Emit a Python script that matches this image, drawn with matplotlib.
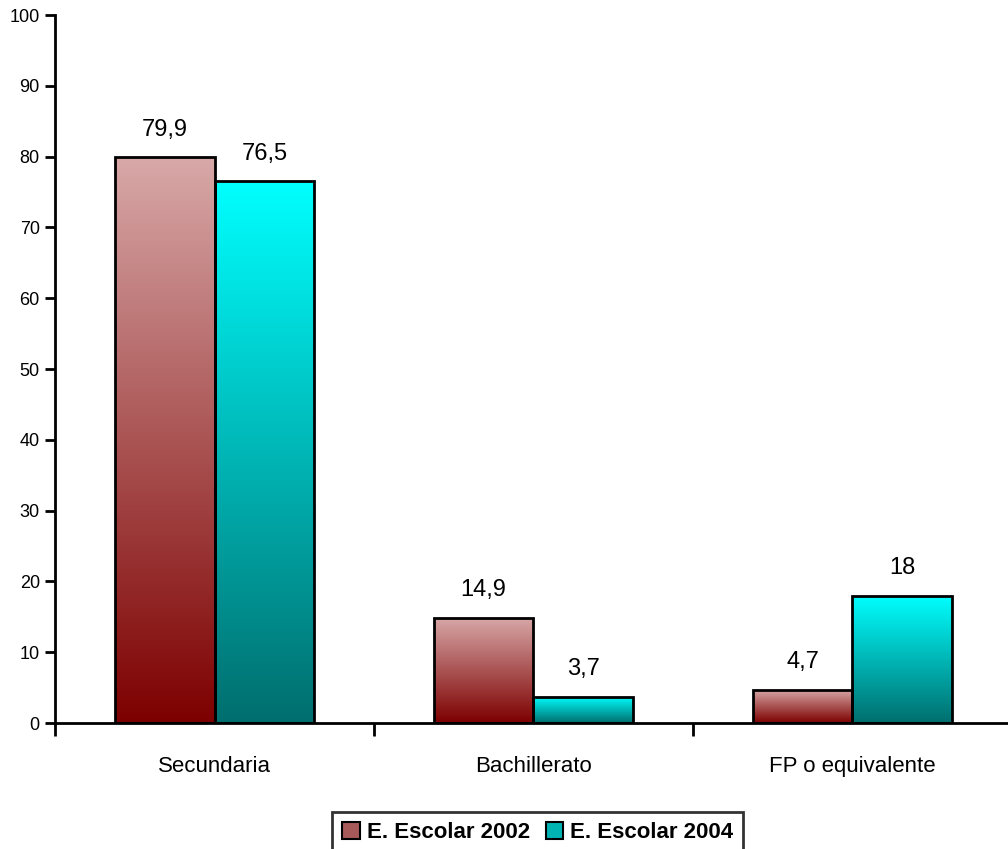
import numpy as np
import matplotlib
matplotlib.use("Agg")
import matplotlib.pyplot as plt
from matplotlib.colors import LinearSegmentedColormap
from matplotlib.patches import Patch

plt.rcParams["font.family"] = ["Liberation Sans", "DejaVu Sans"]

# data
categories = ["Secundaria", "Bachillerato", "FP o equivalente"]
series_names = ["E. Escolar 2002", "E. Escolar 2004"]
escolar_2002 = [79.9, 14.9, 4.7]
escolar_2004 = [76.5, 3.7, 18]
y_ticks = [0, 10, 20, 30, 40, 50, 60, 70, 80, 90, 100]

# gradient colours (bottom -> top)
red_cmap = LinearSegmentedColormap.from_list("red", ["#7d0000", "#d8a8a8"])
cyan_cmap = LinearSegmentedColormap.from_list("cyan", ["#006e6e", "#00ffff"])
mid_colors = ["#a85a5a", "#00b4b4"]

fig = plt.figure(figsize=(10.08, 8.49), dpi=100)
ax = fig.add_axes([0.0546, 0.1484, 0.9454, 0.8339])

x = np.arange(len(categories))
width = 0.313


def gradient_bars(xpos, values, cmap):
    bars = ax.bar(xpos, values, width=width, edgecolor="black", linewidth=2,
                  facecolor="none", zorder=3)
    grad = np.linspace(0, 1, 256).reshape(-1, 1)
    for b in bars:
        x0, y0 = b.get_x(), b.get_y()
        w, h = b.get_width(), b.get_height()
        im = ax.imshow(grad, cmap=cmap, origin="lower", aspect="auto",
                       extent=[x0, x0 + w, y0, y0 + h], zorder=2)
        im.set_clip_path(b)
    return bars


bars1 = gradient_bars(x - width / 2, escolar_2002, red_cmap)
bars2 = gradient_bars(x + width / 2, escolar_2004, cyan_cmap)


def fmt(v):
    return f"{v:g}".replace(".", ",")


for bars, vals in [(bars1, escolar_2002), (bars2, escolar_2004)]:
    for b, v in zip(bars, vals):
        ax.annotate(fmt(v), (b.get_x() + b.get_width() / 2, v),
                    xytext=(0, 12), textcoords="offset points",
                    ha="center", va="bottom", fontsize=17)

ax.set_xlim(-0.5, 2.488)
ax.set_ylim(0, 100)
ax.set_yticks(y_ticks)
ax.tick_params(axis="y", labelsize=13, length=7, width=2, direction="out", pad=4)

ax.set_xticks(x)
ax.set_xticklabels(categories, fontsize=16)
ax.tick_params(axis="x", which="major", length=0, pad=24)
ax.set_xticks([-0.5, 0.5, 1.5], minor=True)
ax.tick_params(axis="x", which="minor", length=9, width=2, direction="out")

for s in ["top", "right"]:
    ax.spines[s].set_visible(False)
for s in ["left", "bottom"]:
    ax.spines[s].set_linewidth(2)

handles = [Patch(facecolor=c, edgecolor="black", linewidth=1.5) for c in mid_colors]
leg = fig.legend(handles, series_names, loc="upper center",
                 bbox_to_anchor=(0.5335, 0.0436),
                 ncol=2, frameon=True, fancybox=False, edgecolor="black",
                 prop={"weight": "bold", "size": 16}, handlelength=0.8,
                 handleheight=0.8, handletextpad=0.3, columnspacing=0.7,
                 borderpad=0.45, borderaxespad=0)
leg.get_frame().set_linewidth(2)

fig.savefig("out.png", dpi=100)
